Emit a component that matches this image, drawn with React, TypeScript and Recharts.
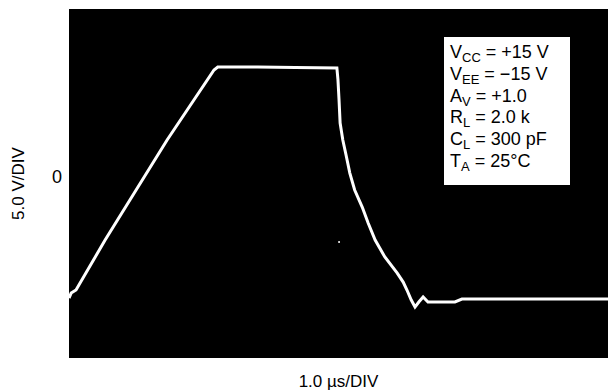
import React from 'react';
import { LineChart, Line, XAxis, YAxis, ReferenceArea, ReferenceDot } from 'recharts';

// time in microseconds
const timeUs = [0, 0.04, 0.13, 0.67, 1.82, 2.69, 2.76, 3.5, 4.2, 4.97, 4.99, 5.01, 5.03, 5.08, 5.14, 5.21, 5.3, 5.44, 5.55, 5.68, 5.86, 6.09, 6.2, 6.27, 6.35, 6.42, 6.49, 6.57, 6.66, 7.16, 7.29, 8.5, 10];
// output voltage in volts
const voltsV = [-11.0, -10.55, -10.27, -5.73, 3.36, 9.73, 10.0, 10.0, 9.95, 9.91, 8.82, 7.0, 4.9, 3.36, 2.0, 0.36, -1.18, -2.73, -4.18, -5.73, -7.27, -8.73, -9.55, -10.27, -11.18, -11.82, -11.36, -10.91, -11.36, -11.36, -11.09, -11.09, -11.09];

const xDomain = [0, 10];
const yDomain = [-16.45, 15.27];
const yTicks = [0];

const conditions = [
  { main: 'V', sub: 'CC', rest: ' = +15 V' },
  { main: 'V', sub: 'EE', rest: ' = \u221215 V' },
  { main: 'A', sub: 'V', rest: ' = +1.0' },
  { main: 'R', sub: 'L', rest: ' = 2.0 k' },
  { main: 'C', sub: 'L', rest: ' = 300 pF' },
  { main: 'T', sub: 'A', rest: ' = 25\u00B0C' },
];

const data = timeUs.map((t, i) => ({ t, v: voltsV[i] }));

const FONT = '"Liberation Sans Narrow", "Liberation Sans", Arial, sans-serif';

export default function App() {
  return (
    <div style={{ position: 'absolute', left: 0, top: 0, width: 608, height: 391, background: '#fff' }}>
      <LineChart width={608} height={391} data={data} margin={{ top: 9, right: 0, bottom: 0, left: 0 }}>
        <XAxis
          dataKey="t"
          type="number"
          domain={xDomain}
          allowDataOverflow
          axisLine={false}
          tickLine={false}
          tick={false}
          height={33}
          label={{ value: '1.0 \u00B5s/DIV', position: 'insideBottom', offset: 4, fill: '#000', fontSize: 17, fontFamily: FONT }}
        />
        <YAxis
          type="number"
          domain={yDomain}
          allowDataOverflow
          ticks={yTicks}
          width={69}
          axisLine={false}
          tickLine={false}
          tickSize={0}
          tickMargin={7}
          tick={{ fill: '#000', fontSize: 18, fontFamily: FONT }}
          label={{ value: '5.0 V/DIV', angle: -90, position: 'insideLeft', offset: 18, textAnchor: 'middle', fill: '#000', fontSize: 17, fontFamily: FONT }}
        />
        <ReferenceArea x1={xDomain[0]} x2={xDomain[1]} y1={yDomain[0]} y2={yDomain[1]} fill="#000" fillOpacity={1} stroke="none" ifOverflow="extendDomain" />
        <Line dataKey="v" type="linear" stroke="#fff" strokeWidth={3} dot={false} isAnimationActive={false} />
        <ReferenceDot x={5.01} y={-5.9} r={1} fill="#fff" stroke="none" />
      </LineChart>
      <svg width={608} height={391} style={{ position: 'absolute', left: 0, top: 0, pointerEvents: 'none' }}>
        <rect x={444} y={37} width={126} height={148} fill="#fff" />
        {conditions.map((c, i) => (
          <text key={i} x={450} y={58 + i * 21.8} fontFamily={FONT} fontSize={18} fill="#000">
            <tspan>{c.main}</tspan>
            <tspan fontSize={13} dy={4}>{c.sub}</tspan>
            <tspan dy={-4}>{c.rest}</tspan>
          </text>
        ))}
      </svg>
    </div>
  );
}
